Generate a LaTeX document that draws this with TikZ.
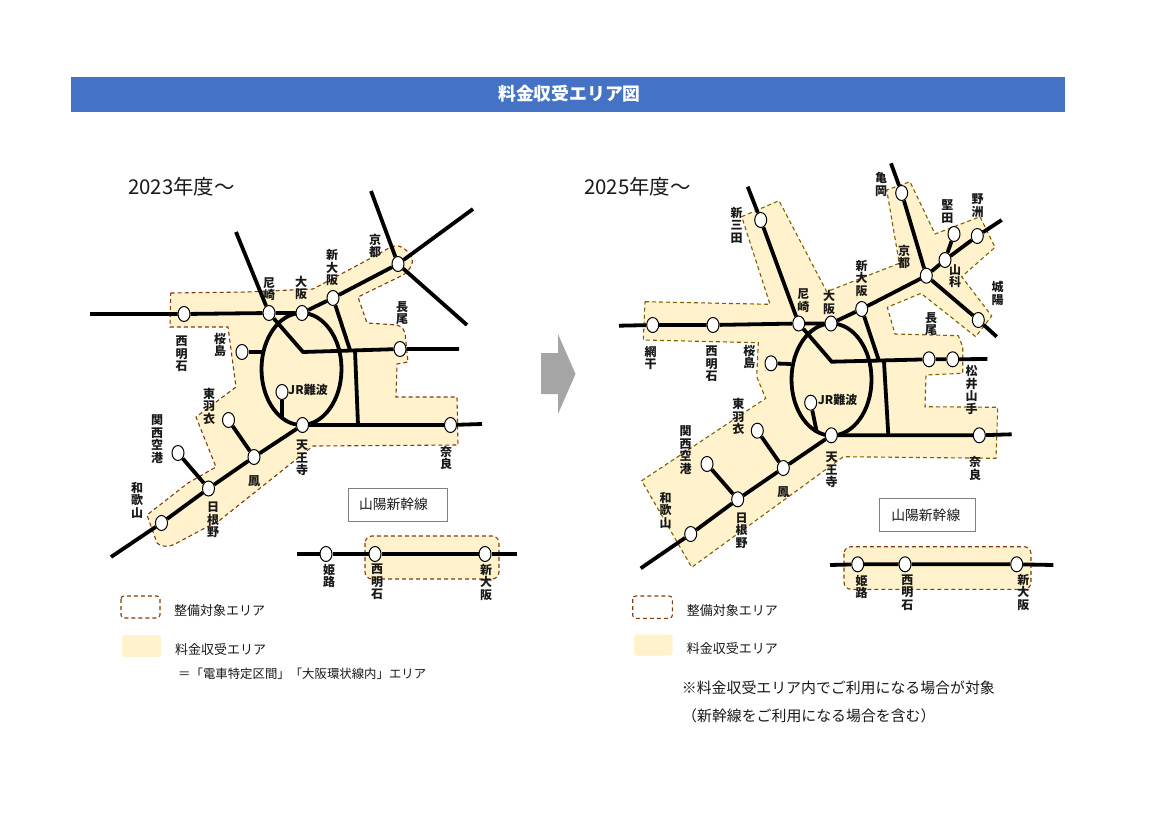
\documentclass[tikz,border=0pt]{standalone}
\usepackage{fontspec}
\setmainfont{Noto Sans CJK JP}
\usepackage{tikz}
\usetikzlibrary{shapes.geometric, backgrounds}
\definecolor{titleBlue}{RGB}{68,114,196}
\definecolor{areaCream}{RGB}{255,242,204}
\definecolor{areaBrown}{RGB}{132,60,12}
\definecolor{areaOlive}{RGB}{127,96,0}
\definecolor{arrowGray}{RGB}{165,165,165}
\definecolor{boxGray}{gray}{0.5}
\definecolor{textBlack}{gray}{0.1}
\tikzset{
    sta/.style={ellipse, draw=black, fill=white, line width=1pt, minimum width=12pt, minimum height=15pt, inner sep=0pt},
    lbl/.style={font=\bfseries\fontsize{12}{12.5}\selectfont, align=center, inner sep=0pt, text=textBlack},
    rail/.style={line width=3.8pt, black},
    area/.style={draw=areaBrown, fill=areaCream, line width=1.1pt, dash pattern=on 4pt off 3pt},
    legtxt/.style={font=\fontsize{13}{15}\selectfont, anchor=west, inner sep=0pt, text=textBlack},
    shbox/.style={draw=boxGray, line width=1pt, fill=white, font=\fontsize{13.8}{15}\selectfont, text=textBlack}
}

\begin{document}
\begin{tikzpicture}[x=1pt, y=-1pt]
    \begin{scope}[on background layer]
        \path[use as bounding box, fill=white] (0,0) rectangle (1169,827);
    \end{scope}

    % Title
    \node[fill=titleBlue, text=white, minimum width=994pt, minimum height=35pt, inner sep=0pt, font=\bfseries\fontsize{17.8}{20}\selectfont] (title) at (568,94) {\hspace*{3pt}料金収受エリア図};

    % Arrow
    \fill[arrowGray] (541,353) -- (558,353) -- (558,334) -- (575.5,374) -- (558,414) -- (558,394) -- (541,394) -- cycle;

    %% ---------- 2023 ----------
    \node[font=\fontsize{20.4}{22}\selectfont, inner sep=0pt, anchor=west, text=textBlack] (yearA) at (128,187) {2023年度～};

    % Stations
    \node[sta] (aNishiakashi) at (184,314) {};
    \node[sta] (aAmagasaki) at (269,313) {};
    \node[sta] (aOsaka) at (302,313) {};
    \node[sta] (aShinosaka) at (333,298) {};
    \node[sta] (aKyoto) at (398,264) {};
    \node[sta] (aNagao) at (400,349) {};
    \node[sta] (aSakurajima) at (242,352) {};
    \node[sta] (aNamba) at (282,392) {};
    \node[sta] (aTennoji) at (302.5,425) {};
    \node[sta] (aNara) at (450.5,425) {};
    \node[sta] (aHagoromo) at (228.5,420) {};
    \node[sta] (aOtori) at (254,457) {};
    \node[sta] (aKanku) at (178,453) {};
    \node[sta] (aHineno) at (208.5,488.5) {};
    \node[sta] (aWakayama) at (161.5,523) {};

    % Free line ends
    \coordinate (aWest) at (90,314);
    \coordinate (aNorth) at (236,232);
    \coordinate (aKyotoA) at (371,191);
    \coordinate (aKyotoB) at (473,209);
    \coordinate (aKyotoC) at (467,325);
    \coordinate (aBendA) at (303,352);
    \coordinate (aEastA) at (459,349);
    \coordinate (aBendB) at (350,350);
    \coordinate (aBendC) at (355,350);
    \coordinate (aBendD) at (358,425);
    \coordinate (aEastB) at (482,424);
    \coordinate (aSouth) at (111,557);
    \coordinate (aLoopA) at (282,417);
    \coordinate (aLoopB) at (262,352);

    \begin{scope}[on background layer]
        \draw[area] (170.7,293) -- (247,292) -- (313,289) -- (373,257) -- (389,248) .. controls (398,243) and (404,248) .. (408,252) .. controls (414,258) and (415,266) .. (403,275) -- (358,297) -- (367,323) -- (397,325) .. controls (403,327) and (404,330) .. (405,333) -- (408,362) -- (397,364) -- (396,397) -- (457,397) -- (458,445) -- (313,446) -- (220,520) -- (175,544) .. controls (167,548) and (160,546) .. (157,543) -- (147,515) -- (188,483) -- (216,467) -- (196,417) -- (236,387) -- (228,327) -- (170,327) -- cycle;
        \draw[rail] (aWest) -- (aNishiakashi) -- (aAmagasaki) -- (aOsaka) -- (aShinosaka) -- (aKyoto);
        \draw[rail] (aNorth) -- (aAmagasaki);
        \draw[rail] (aKyotoA) -- (aKyoto);
        \draw[rail] (aKyotoB) -- (aKyoto);
        \draw[rail] (aKyotoC) -- (aKyoto);
        \draw[rail] (aAmagasaki) -- (aBendA) -- (aNagao) -- (aEastA);
        \draw[rail] (aShinosaka) -- (aBendB);
        \draw[rail] (aBendC) -- (aBendD);
        \draw[rail] (301.5,369) ellipse (40 and 56);
        \draw[rail] (aNamba) -- (aLoopA);
        \draw[rail] (aSakurajima) -- (aLoopB);
        \draw[rail] (aTennoji) -- (aNara) -- (aEastB);
        \draw[rail] (aTennoji) -- (aOtori) -- (aHineno) -- (aWakayama) -- (aSouth);
        \draw[rail] (aHagoromo) -- (aOtori);
        \draw[rail] (aKanku) -- (aHineno);
    \end{scope}

    % Labels
    \node[lbl] (laNishiakashi) at (181.7,354) {西\\明\\石};
    \node[lbl] (laSakurajima) at (220,345) {桜\\島};
    \node[lbl] (laAmagasaki) at (269,289) {尼\\崎};
    \node[lbl] (laOsaka) at (301,288) {大\\阪};
    \node[lbl] (laShinosaka) at (332,268) {新\\大\\阪};
    \node[lbl] (laKyoto) at (375,246) {京\\都};
    \node[lbl] (laNagao) at (402,313) {長\\尾};
    \node[lbl] (laNamba) at (308,390) {JR難波};
    \node[lbl] (laHagoromo) at (209,406) {東\\羽\\衣};
    \node[lbl] (laKanku) at (157,439) {関\\西\\空\\港};
    \node[lbl] (laWakayama) at (137,500) {和\\歌\\山};
    \node[lbl] (laHineno) at (213,520) {日\\根\\野};
    \node[lbl] (laOtori) at (254,481) {鳳};
    \node[lbl] (laTennoji) at (302,458) {天\\王\\寺};
    \node[lbl] (laNara) at (446,458) {奈\\良};

    % Shinkansen
    \node[shbox, minimum width=99pt, minimum height=33pt, inner sep=0pt, text width=77pt, align=left] (aShinBox) at (397.5,504.5) {山陽新幹線};
    \node[sta] (asHimeji) at (326,554) {};
    \node[sta] (asNishiakashi) at (375,554) {};
    \node[sta] (asShinosaka) at (485,554) {};
    \coordinate (asWest) at (297,554);
    \coordinate (asEast) at (517,554);
    \begin{scope}[on background layer]
        \draw[area, rounded corners=7pt] (365,536) rectangle (499,579);
        \draw[rail] (asWest) -- (asHimeji) -- (asNishiakashi) -- (asShinosaka) -- (asEast);
    \end{scope}
    \node[lbl] (lasHimeji) at (329,576) {姫\\路};
    \node[lbl] (lasNishiakashi) at (377,582) {西\\明\\石};
    \node[lbl] (lasShinosaka) at (486,582) {新\\大\\阪};

    % Legend
    \draw[area, fill=none, rounded corners=3pt] (121,596) rectangle (160,618);
    \fill[areaCream, rounded corners=3pt] (122,635) rectangle (161,657);
    \node[legtxt] (aLegA) at (174,611) {整備対象エリア};
    \node[legtxt] (aLegB) at (175,650) {料金収受エリア};
    \node[legtxt, font=\fontsize{12.4}{15}\selectfont] (aLegC) at (178,674) {＝「電車特定区間」「大阪環状線内」エリア};

    %% ---------- 2025 ----------
    \node[font=\fontsize{20.4}{22}\selectfont, inner sep=0pt, anchor=west, text=textBlack] (yearB) at (584,187) {2025年度～};

    % Stations
    \node[sta] (bAboshi) at (652.7,325) {};
    \node[sta] (bNishiakashi) at (713,325) {};
    \node[sta] (bAmagasaki) at (798.7,323.5) {};
    \node[sta] (bOsaka) at (831,323.5) {};
    \node[sta] (bShinosaka) at (861.7,309) {};
    \node[sta] (bKyoto) at (926.3,275.7) {};
    \node[sta] (bSanda) at (760.7,220) {};
    \node[sta] (bKameoka) at (901.7,193) {};
    \node[sta] (bYamashina) at (945,260) {};
    \node[sta] (bKatata) at (954,234) {};
    \node[sta] (bYasu) at (977.3,236) {};
    \node[sta] (bJoyo) at (978.3,320) {};
    \node[sta] (bNagao) at (929,359.3) {};
    \node[sta] (bMatsui) at (952.7,359.3) {};
    \node[sta] (bSakurajima) at (771,363.3) {};
    \node[sta] (bNamba) at (810.7,402.7) {};
    \node[sta] (bTennoji) at (831.3,435.3) {};
    \node[sta] (bNara) at (979.3,435.3) {};
    \node[sta] (bHagoromo) at (757.3,430.7) {};
    \node[sta] (bOtori) at (783.3,468) {};
    \node[sta] (bKanku) at (707,464) {};
    \node[sta] (bHineno) at (737.7,499.3) {};
    \node[sta] (bWakayama) at (690.7,534) {};

    % Free line ends
    \coordinate (bWest) at (619,325.7);
    \coordinate (bNorthA) at (747.7,186.7);
    \coordinate (bNorthB) at (891,163.3);
    \coordinate (bEastC) at (1001.7,220);
    \coordinate (bJoyoEnd) at (996.7,336.7);
    \coordinate (bBendA) at (831.7,361.7);
    \coordinate (bEastA) at (987.3,359);
    \coordinate (bBendB) at (879.3,361.7);
    \coordinate (bBendC) at (884,361.7);
    \coordinate (bBendD) at (888.3,435);
    \coordinate (bEastB) at (1011.7,434.3);
    \coordinate (bSouth) at (640.7,568.3);
    \coordinate (bLoopA) at (816.7,431.7);
    \coordinate (bLoopB) at (791,364);

    \begin{scope}[on background layer]
        \draw[area, draw=areaOlive] (645,301.7) -- (770,304.3) -- (741.7,216.7) -- (779,200.7) -- (826.7,291.7) -- (899.3,263.3) -- (886.7,190) -- (910,181.7) -- (935,234) -- (980,216.7) -- (995,247.3) -- (961.7,276.7) -- (991.7,316) -- (975.7,336.7) -- (921,293.3) -- (887.3,307.3) -- (895,334) -- (958.3,335.7) -- (962.7,346.7) -- (962.7,373.3) -- (926,375) -- (925,406.7) -- (997.7,407.3) -- (996,458.3) -- (843.3,456.7) -- (691.7,567.3) -- (641.7,480.7) -- (765.7,398.3) -- (756.7,376.7) -- (758.3,342.7) -- (643.3,340) -- cycle;
        \draw[rail] (bWest) -- (bAboshi) -- (bNishiakashi) -- (bAmagasaki) -- (bOsaka) -- (bShinosaka) -- (bKyoto) -- (bYamashina) -- (bYasu) -- (bEastC);
        \draw[rail] (bNorthA) -- (bSanda) -- (bAmagasaki);
        \draw[rail] (bNorthB) -- (bKameoka) -- (bKyoto);
        \draw[rail] (bKatata) -- (bYamashina);
        \draw[rail] (bKyoto) -- (bJoyo) -- (bJoyoEnd);
        \draw[rail] (bAmagasaki) -- (bBendA) -- (bNagao) -- (bMatsui) -- (bEastA);
        \draw[rail] (bShinosaka) -- (bBendB);
        \draw[rail] (bBendC) -- (bBendD);
        \draw[rail] (831.5,379.5) ellipse (40 and 56);
        \draw[rail] (bNamba) -- (bLoopA);
        \draw[rail] (bSakurajima) -- (bLoopB);
        \draw[rail] (bTennoji) -- (bNara) -- (bEastB);
        \draw[rail] (bTennoji) -- (bOtori) -- (bHineno) -- (bWakayama) -- (bSouth);
        \draw[rail] (bHagoromo) -- (bOtori);
        \draw[rail] (bKanku) -- (bHineno);
    \end{scope}

    % Labels
    \node[lbl] (lbAboshi) at (650.7,358) {網\\干};
    \node[lbl] (lbNishiakashi) at (711.7,364) {西\\明\\石};
    \node[lbl] (lbSakurajima) at (749.3,356.7) {桜\\島};
    \node[lbl] (lbAmagasaki) at (803.3,300.7) {尼\\崎};
    \node[lbl] (lbOsaka) at (829,302.3) {大\\阪};
    \node[lbl] (lbShinosaka) at (861.7,278.3) {新\\大\\阪};
    \node[lbl] (lbSanda) at (736.7,225) {新\\三\\田};
    \node[lbl] (lbKameoka) at (881,184.3) {亀\\岡};
    \node[lbl] (lbKyoto) at (904,256.7) {京\\都};
    \node[lbl] (lbKatata) at (947.3,211.7) {堅\\田};
    \node[lbl] (lbYasu) at (977.7,205.7) {野\\洲};
    \node[lbl] (lbYamashina) at (955,276) {山\\科};
    \node[lbl] (lbJoyo) at (997.7,293.3) {城\\陽};
    \node[lbl] (lbNagao) at (931,324) {長\\尾};
    \node[lbl] (lbMatsui) at (971.7,390) {松\\井\\山\\手};
    \node[lbl] (lbNamba) at (837.7,400) {JR難波};
    \node[lbl] (lbHagoromo) at (738.3,416.7) {東\\羽\\衣};
    \node[lbl] (lbKanku) at (685.7,450) {関\\西\\空\\港};
    \node[lbl] (lbWakayama) at (665.7,510) {和\\歌\\山};
    \node[lbl] (lbHineno) at (741.7,530.7) {日\\根\\野};
    \node[lbl] (lbOtori) at (783.3,491.7) {鳳};
    \node[lbl] (lbTennoji) at (831.7,470) {天\\王\\寺};
    \node[lbl] (lbNara) at (975,468.3) {奈\\良};

    % Shinkansen
    \node[shbox, minimum width=96pt, minimum height=33pt, inner sep=0pt, text width=72pt, align=left] (bShinBox) at (927.3,515.3) {山陽新幹線};
    \node[sta] (bsHimeji) at (857.7,564.3) {};
    \node[sta] (bsNishiakashi) at (905,564.3) {};
    \node[sta] (bsShinosaka) at (1016.7,564.3) {};
    \coordinate (bsWest) at (830,565);
    \coordinate (bsEast) at (1053.3,565);
    \begin{scope}[on background layer]
        \draw[area, rounded corners=7pt] (844,546.7) rectangle (1031,589.3);
        \draw[rail] (bsWest) -- (bsHimeji) -- (bsNishiakashi) -- (bsShinosaka) -- (bsEast);
    \end{scope}
    \node[lbl] (lbsHimeji) at (861.7,586.7) {姫\\路};
    \node[lbl] (lbsNishiakashi) at (907.3,592.3) {西\\明\\石};
    \node[lbl] (lbsShinosaka) at (1023.3,592.3) {新\\大\\阪};

    % Legend
    \draw[area, fill=none, rounded corners=3pt] (632.7,596) rectangle (672.3,618.3);
    \fill[areaCream, rounded corners=3pt] (634,634.3) rectangle (672.7,655.7);
    \node[legtxt] (bLegA) at (686.7,611) {整備対象エリア};
    \node[legtxt] (bLegB) at (686.7,649) {料金収受エリア};
    \node[legtxt, font=\fontsize{14.9}{16}\selectfont] (bNoteA) at (681.7,688) {※料金収受エリア内でご利用になる場合が対象};
    \node[legtxt, font=\fontsize{14.9}{16}\selectfont] (bNoteB) at (682,716) {（新幹線をご利用になる場合を含む）};
\end{tikzpicture}
\end{document}
